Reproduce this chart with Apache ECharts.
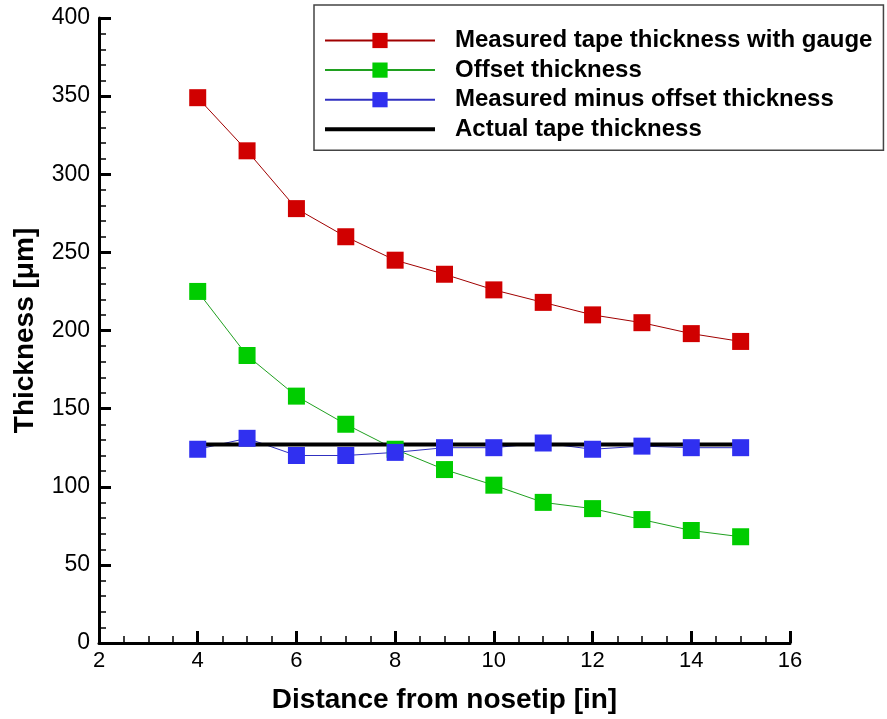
<!DOCTYPE html>
<html>
<head>
<meta charset="utf-8">
<script src="https://cdn.jsdelivr.net/npm/echarts@6/dist/echarts.min.js"></script>
<style>
  html, body { margin: 0; padding: 0; background: #fff; }
  #chart { width: 887px; height: 719px; }
</style>
</head>
<body>
<div id="chart"></div>
<script>
// distance from nosetip [in]
var distance = [4, 5, 6, 7, 8, 9, 10, 11, 12, 13, 14, 15];
var measured = [349, 315, 278, 260, 245, 236, 226, 218, 210, 205, 198, 193];
var offset   = [225, 184, 158, 140, 124, 111, 101, 90, 86, 79, 72, 68];
var minus    = [124, 131, 120, 120, 122, 125, 125, 128, 124, 126, 125, 125];
var actualX = [4, 15];
var actualY = [127, 127];

var seriesNames = [
    'Measured tape thickness with gauge',
    'Offset thickness',
    'Measured minus offset thickness',
    'Actual tape thickness'
];

function pairs(xs, ys) {
    return xs.map(function (x, i) { return [x, ys[i]]; });
}

var font = 'Arial, "Liberation Sans", sans-serif';
var myChart = echarts.init(document.getElementById('chart'));

var option = {
    backgroundColor: '#ffffff',
    animation: false,
    grid: { left: 99, right: 97, top: 18, bottom: 70 },
    legend: {
        orient: 'vertical',
        left: 314,
        top: 5,
        padding: [23.5, 11, 9, 10],
        itemWidth: 110,
        itemHeight: 19,
        itemGap: 5.6,
        borderColor: '#444',
        borderWidth: 1.5,
        textStyle: {
            fontFamily: font, fontWeight: 'bold', fontSize: 24, color: '#000',
            padding: [0, 0, 0, 15]
        },
        data: [
            seriesNames[0],
            seriesNames[1],
            seriesNames[2],
            // plain thick line, no marker
            { name: seriesNames[3], icon: 'path://M0,0L110,0L110,4L0,4Z' }
        ]
    },
    xAxis: {
        type: 'value',
        min: 2,
        max: 16,
        interval: 2,
        name: 'Distance from nosetip [in]',
        nameLocation: 'middle',
        nameGap: 43,
        nameTextStyle: { fontFamily: font, fontWeight: 'bold', fontSize: 28, color: '#000' },
        axisLine: { lineStyle: { color: '#000', width: 3 } },
        axisTick: { inside: true, length: 12, lineStyle: { width: 3, color: '#000' } },
        minorTick: { show: true, splitNumber: 4, length: 7, lineStyle: { width: 1.5, color: '#000' } },
        axisLabel: { fontFamily: font, fontSize: 22, color: '#000', margin: 7 },
        splitLine: { show: false }
    },
    yAxis: {
        type: 'value',
        min: 0,
        max: 400,
        interval: 50,
        name: 'Thickness [μm]',
        nameLocation: 'middle',
        nameGap: 60,
        nameTextStyle: { fontFamily: font, fontWeight: 'bold', fontSize: 28, color: '#000' },
        axisLine: { show: true, lineStyle: { color: '#000', width: 3 } },
        axisTick: { show: true, inside: true, length: 12, lineStyle: { width: 3, color: '#000' } },
        minorTick: { show: true, splitNumber: 5, length: 7, lineStyle: { width: 1.5, color: '#000' } },
        axisLabel: { fontFamily: font, fontSize: 23, color: '#000', margin: 9 },
        splitLine: { show: false }
    },
    series: [
        {
            name: seriesNames[0],
            type: 'line',
            data: pairs(distance, measured),
            symbol: 'rect',
            symbolSize: 17,
            itemStyle: { color: '#d00000' },
            lineStyle: { color: '#a00000', width: 1 }
        },
        {
            name: seriesNames[1],
            type: 'line',
            data: pairs(distance, offset),
            symbol: 'rect',
            symbolSize: 17,
            itemStyle: { color: '#00cc00' },
            lineStyle: { color: '#20a020', width: 1 }
        },
        {
            name: seriesNames[2],
            type: 'line',
            data: pairs(distance, minus),
            symbol: 'rect',
            symbolSize: 17,
            itemStyle: { color: '#3030f0' },
            lineStyle: { color: '#3030c0', width: 1 }
        },
        {
            name: seriesNames[3],
            type: 'line',
            data: pairs(actualX, actualY),
            symbol: 'none',
            itemStyle: { color: '#000' },
            lineStyle: { color: '#000', width: 4 }
        }
    ]
};
myChart.setOption(option);
</script>
</body>
</html>
